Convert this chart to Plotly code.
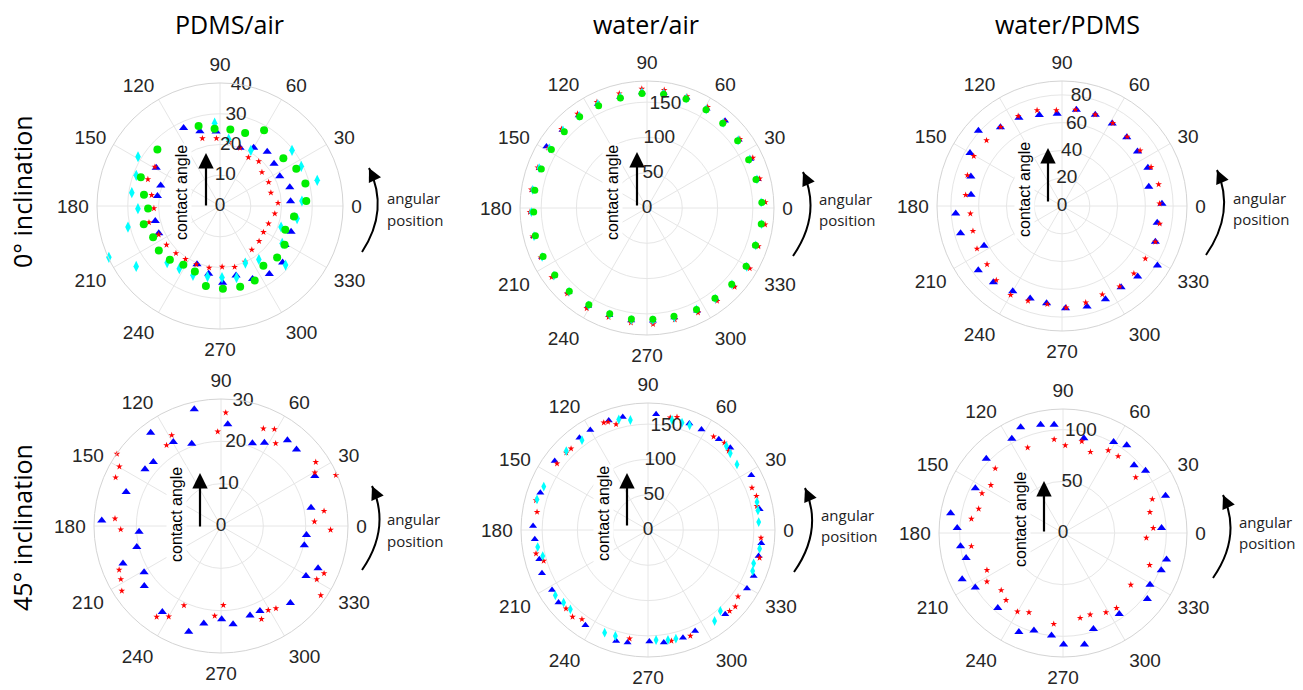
import plotly.graph_objects as go

W, H = 1303, 690

# ---------------- data (angular position in deg, contact angle in deg) ----------------
ANG_TICKS = [0, 30, 60, 90, 120, 150, 180, 210, 240, 270, 300, 330]
RADIAL_LABEL_ANGLE = 80

COL_TITLES = ["PDMS/air", "water/air", "water/PDMS"]
ROW_TITLES = ["0° inclination", "45° inclination"]

# Panel 1: PDMS/air, 0° inclination
P1_RED_T = [3, 14.6, 26, 38.8, 49, 59.7, 71, 82, 93, 104.6, 149, 159.7, 171, 182, 193, 205, 216, 227, 237, 248,
            260, 272, 283.5, 294, 306, 318, 329, 340, 352]
P1_RED_R = [18.9, 17.1, 17.6, 17.5, 19.2, 18.3, 20, 21, 22, 22.7, 24.7, 25, 22.5, 21.5, 23.7, 22, 21.5, 21, 20.6, 20.5,
            20.4, 19.8, 20.4, 19.9, 17.6, 17.1, 16.5, 16.8, 18]
P1_BLUE_T = [3.8, 15, 26.4, 38, 49, 60, 71, 93, 105, 115, 149, 161, 171, 193, 204, 248.5, 260.5, 272, 283, 294,
             306, 318, 329, 340, 352]
P1_BLUE_R = [23, 23.5, 21.7, 22.3, 23.4, 21.9, 20, 24.3, 25.2, 28, 24.2, 20.4, 20.6, 21.6, 21.8, 20.4, 22.3, 25, 23.2, 26,
             27.3, 27.4, 24.7, 24.6, 24.5]
P1_CYAN_T = [3.5, 14.8, 26, 37.7, 61, 82.6, 93.7, 149, 159.9, 171.4, 181.9, 192.9, 204.8, 215.8, 227, 237, 248.7, 260,
             271.6, 283, 294, 306, 318, 329, 341, 350.7]
P1_CYAN_R = [26.7, 32.7, 29.4, 29.6, 20.7, 21.9, 27, 31.1, 29, 29, 26.7, 30.7, 39.8, 33.6, 25.2, 24.3, 24.2, 23.3,
             23.3, 23.9, 20.3, 21.5, 28.7, 23.6, 21, 25.4]
P1_GREEN_T = [3.3, 14.7, 26, 37, 59.8, 71, 82.3, 94, 105, 138, 160, 171.5, 182, 193.5, 205, 216, 227, 238, 249, 260,
              272, 284, 295, 306, 318, 329, 340, 352]
P1_GREEN_R = [28.1, 28.7, 27.6, 25.8, 28.5, 25.1, 25.1, 25.2, 26.9, 27.4, 27.4, 25, 23.4, 25.5, 24, 24.6, 23.9, 22.5,
              22.8, 26.4, 26.9, 27.1, 26.7, 24, 25, 24.5, 22.6, 24.3]

# Panel 2: water/air, 0° inclination
P2_T = [2.8, 14.6, 25.4, 36.6, 48.2, 59, 70.3, 81.7, 92.5, 103.6, 115.3, 126.4, 137.3, 148.6, 159.7, 171, 182, 194,
        205, 216, 227, 239, 250.6, 262, 273, 284, 296, 307, 318, 329.5, 341, 352]
P2_GREEN_R = [163, 159.6, 159.5, 160, 161, 162.5, 164, 163, 162.6, 160.4, 160.4, 160.8, 159.5, 158.8, 159.7, 161,
              160.7, 163, 162.5, 161.5, 161.5, 160, 159, 159, 158, 158, 160, 160, 161.6, 163, 162.5, 163.5]
P2_RED_R = [168, 165, 166, 164, 165, 167, 168, 169, 169, 167, 166, 166, 165, 164, 165, 166, 166, 167, 166, 167, 166,
            166, 164, 164, 165, 163, 165, 165, 167, 169, 167, 169]
P2_BLUE_R = [164, 162, 162, 162, 166, 164, 166, 165, 164, 162, 163, 163, 163, 167, 162, 163, 163, 165, 164, 163, 163,
             162, 161, 161, 160, 160, 162, 162, 164, 165, 164, 165]
P2_CYAN_R = [162, 161, 161, 161, 162, 163, 165, 164, 164, 162, 163, 162, 162, 162, 163, 164, 164, 165, 164, 163, 162,
             161, 160, 160, 159, 160, 160, 161, 162, 164, 163, 164]

# Panel 3: water/PDMS, 0° inclination
P3_BLUE_T = [1.3, 12.5, 24, 35.8, 46.7, 58.7, 70, 81.5, 93, 104, 116, 128, 138, 150, 162, 173, 184, 195, 207, 217.5,
             228, 240, 251, 261, 272, 284, 295, 306, 317, 328, 339, 350]
P3_BLUE_R = [72, 64, 67.7, 67, 68, 69.6, 70, 70, 66.5, 67.5, 70.7, 72, 81, 76.5, 69, 66, 76.7, 75.6, 63, 76, 73.8,
             70.9, 70.4, 70.9, 73.7, 74.6, 74, 72.4, 74.5, 81, 72, 69.6]
P3_RED_T = [1.4, 12.6, 23.6, 35.4, 46.7, 58.5, 70, 82, 93.4, 104.6, 116, 127.8, 139, 150.5, 162, 173.5, 184.8, 195.7,
            206.7, 217.9, 228.5, 240, 250.3, 261.5, 272.4, 283.8, 294.5, 305.6, 316.8, 327.7, 339, 349.7]
P3_RED_R = [70.3, 71.3, 70, 69, 68.5, 70, 70, 70, 69, 71.2, 72, 72, 72, 73, 71.6, 69.8, 66.2, 66.6, 68.5, 68.4, 71.4,
            74, 72.6, 71.5, 73.2, 71.6, 70, 71.3, 71, 71, 72, 71.5]

# Panel 4: PDMS/air, 45° inclination
P4_BLUE_T = [11.5, 28, 45.4, 52.2, 62.5, 69.2, 86.2, 102.9, 109.6, 119.6, 127, 136.6, 143.3, 160.3, 177.3, 184, 194,
             201, 211, 218, 235.7, 253, 260, 270.4, 277, 288, 294.6, 312, 329.5, 336.5, 347, 354]
P4_BLUE_R = [21.7, 25.1, 25.4, 25.6, 22.2, 20.9, 24.1, 28.3, 20.6, 22.8, 27.6, 22, 22.4, 23.8, 28.2, 19.4, 20.5, 24.8,
             21.2, 23, 24.6, 26.1, 23.4, 22, 23.4, 22.2, 22.1, 24.5, 23.3, 25, 20.2, 20.3]
P4_RED_T = [2.7, 8.3, 23.9, 29.6, 34, 56.5, 61.1, 66.5, 87.6, 92, 118.5, 124, 145.3, 149.7, 155.3, 176, 182, 203.3,
            208, 213.2, 234.7, 240, 245, 266, 271.7, 293.5, 299.3, 303.7, 325.2, 330.9, 335.3, 358]
P4_RED_R = [22.1, 24.6, 29.7, 25.5, 27, 23.4, 26.1, 25.1, 26.8, 22.3, 24.4, 23, 29.9, 27.8, 27.4, 25.1, 23.7, 26.2,
            26.8, 28, 26.3, 24.7, 20.7, 21.3, 18.7, 24, 22.8, 23.4, 28.7, 25.9, 26.8, 25.9]

# Panel 5: water/air, 45° inclination
P5_BLUE_T = [10.5, 27.9, 45, 52, 62, 68.8, 86, 102.6, 109.7, 120, 126.6, 143.5, 160.9, 178, 184.7, 195, 202.2, 212,
             219, 236.7, 254, 259.7, 270.7, 278, 288, 295, 312.5, 329.4, 336.5, 346.8, 353.3]
P5_BLUE_R = [161, 165.7, 165, 163, 161.4, 162, 164.3, 164, 165, 163.5, 163, 164.5, 161.5, 163, 161, 159.5, 162.3,
             160.4, 163.2, 161.6, 163.7, 162, 158.2, 161, 160.4, 158, 162, 163, 163.3, 161, 161.7]
P5_RED_T = [12.4, 17.4, 22.1, 44.4, 48.8, 54.9, 75.6, 78.8, 106.8, 110.3, 112.4, 133.4, 136.6, 143.9, 165.2, 170.8,
            191.9, 196.5, 223.8, 229, 233.5, 260.4, 281.9, 291.8, 315.2, 318.7, 323.5, 346, 356]
P5_RED_R = [158, 161, 159, 160, 164.4, 161.7, 165.3, 162.3, 156.5, 163.2, 164.5, 158.7, 159.4, 159.6, 164.2, 159.3,
            162.2, 154.2, 161, 163, 157.4, 156.2, 160.7, 161.7, 163, 164.7, 158.7, 163, 160.5]
P5_CYAN_T = [4.1, 10.1, 14.4, 36.4, 43, 47, 68.3, 72.4, 77.7, 99.1, 104.8, 126.3, 136, 157.4, 164.6, 188.8, 193.9,
             215.2, 220.7, 225.6, 247.1, 252.9, 274.2, 280.3, 284.4, 306.2, 311.8, 338.6, 342.5, 350.5]
P5_CYAN_R = [157.3, 158.3, 159.5, 156.7, 159.4, 162.8, 159.6, 159.6, 159.6, 157.9, 162, 158, 161, 160, 163.2, 158.2,
             153.7, 160.7, 157.8, 157.3, 157.9, 157.2, 156.3, 158.4, 159, 159.8, 153.9, 159.3, 157, 160.4]

# Panel 6: water/PDMS, 45° inclination
P6_BLUE_T = [2.9, 20, 37, 43.6, 54, 60.9, 77.6, 94.7, 101.7, 111.8, 118.5, 135.9, 153, 170, 177.3, 187.4, 194.4, 204.7,
             211.9, 229, 246, 253.4, 263.6, 270.3, 280.9, 287.6, 304.8, 321.9, 329.2, 339.2, 345.7]
P6_BLUE_R = [95.5, 105.6, 100, 95, 104.9, 100.7, 94, 105, 106.9, 110.3, 103.8, 103.4, 95.2, 110.4, 102.5, 100, 96.8,
             107.4, 100, 96.2, 105, 98.5, 99.8, 107.8, 109.8, 97.4, 95.4, 103.7, 98, 101.7, 103.4]
P6_RED_T = [3.1, 13.5, 20.7, 37.4, 54.3, 61.3, 71.3, 78.4, 88.5, 95.4, 112.5, 136.4, 146.4, 153.9, 164, 171.2, 188.2,
            206, 212.6, 222.8, 229.7, 239.9, 246.8, 264.2, 281.4, 288.4, 298.4, 305.5, 322.6, 339.7, 356.6]
P6_RED_R = [87.5, 86.5, 92.4, 88.6, 91.5, 91.2, 82.8, 90.5, 84.8, 91, 89.4, 90.5, 83.8, 87.3, 84.9, 89.7, 89.6, 81.9,
            87.4, 81.5, 85.2, 88, 83.6, 88.5, 83.9, 83.3, 87.4, 89.2, 82.6, 89.4, 80.8]

# ---------------- styling ----------------
RED = dict(symbol="star", size=5, color="#ff0000", line=dict(width=0))
BLUE = dict(symbol="triangle-up", size=8, color="#0000ff", line=dict(width=0))
CYAN = dict(symbol="diamond-tall", size=8, color="#00ffff", line=dict(width=0))
GREEN = dict(symbol="circle", size=8, color="#00ee00", line=dict(width=0))

TICKFONT = dict(family="Liberation Sans, Arial, sans-serif", size=19, color="#262626")
GRID = "#e6e6e6"

# panel geometry: centre (px), radius (px), radial max, radial ticks, decorations
PANELS = [
    dict(cx=220, cy=206, R=123, rmax=40, rt=[0, 10, 20, 30, 40],
         arr=(206, 207, 153), lab=(182, 193), cb=(362, 252), ct=(369, 168), bulge=12, txt=(385, 198, 220)),
    dict(cx=647, cy=208, R=127, rmax=180, rt=[0, 50, 100, 150],
         arr=(637, 207, 152), lab=(613, 193), cb=(793, 256), ct=(803, 172), bulge=12, txt=(817, 199, 220)),
    dict(cx=1062, cy=206, R=125, rmax=90, rt=[0, 20, 40, 60, 80],
         arr=(1048, 203, 148), lab=(1024, 190), cb=(1206, 255), ct=(1217, 170), bulge=12, txt=(1231, 198, 219)),
    dict(cx=221, cy=526, R=127, rmax=30, rt=[0, 10, 20, 30],
         arr=(200, 528, 473), lab=(176, 515), cb=(362, 570), ct=(372, 486), bulge=12, txt=(385, 519, 541)),
    dict(cx=648, cy=530, R=127, rmax=180, rt=[0, 50, 100, 150],
         arr=(627, 527, 473), lab=(603, 514), cb=(794, 572), ct=(805, 488), bulge=12, txt=(819, 515, 536)),
    dict(cx=1063, cy=533, R=124, rmax=120, rt=[0, 50, 100],
         arr=(1044, 533, 481), lab=(1020, 520), cb=(1213, 578), ct=(1223, 495), bulge=12, txt=(1237, 522, 543)),
]

SERIES = [
    [(P1_BLUE_T, P1_BLUE_R, BLUE), (P1_RED_T, P1_RED_R, RED), (P1_CYAN_T, P1_CYAN_R, CYAN),
     (P1_GREEN_T, P1_GREEN_R, GREEN)],
    [(P2_T, P2_BLUE_R, dict(BLUE, size=7)), (P2_T, P2_RED_R, RED), (P2_T, P2_CYAN_R, dict(CYAN, size=7)),
     (P2_T, P2_GREEN_R, dict(GREEN, size=7))],
    [(P3_BLUE_T, P3_BLUE_R, BLUE), (P3_RED_T, P3_RED_R, RED)],
    [(P4_BLUE_T, P4_BLUE_R, BLUE), (P4_RED_T, P4_RED_R, RED)],
    [(P5_BLUE_T, P5_BLUE_R, dict(BLUE, size=7)), (P5_RED_T, P5_RED_R, RED), (P5_CYAN_T, P5_CYAN_R, dict(CYAN, size=7))],
    [(P6_BLUE_T, P6_BLUE_R, BLUE), (P6_RED_T, P6_RED_R, RED)],
]


def px(x):
    return x / W


def py(y):
    return 1 - y / H


fig = go.Figure()
layout = {}
annotations = []
shapes = []

for i, (p, series) in enumerate(zip(PANELS, SERIES)):
    name = "polar" if i == 0 else f"polar{i + 1}"
    for th, rr, mk in series:
        fig.add_trace(go.Scatterpolar(theta=th, r=rr, mode="markers", marker=mk, subplot=name,
                                      showlegend=False, hoverinfo="skip"))
    # radial tick labels centred on the 80° line (MATLAB style), placed by the polar axis scale
    fig.add_trace(go.Scatterpolar(r=p["rt"], theta=[RADIAL_LABEL_ANGLE] * len(p["rt"]), mode="text",
                                  text=[str(v) for v in p["rt"]], textposition="middle center",
                                  textfont=TICKFONT, cliponaxis=False, subplot=name,
                                  showlegend=False, hoverinfo="skip"))
    cx, cy, R = p["cx"], p["cy"], p["R"]
    layout[name] = dict(
        domain=dict(x=[px(cx - R), px(cx + R)], y=[py(cy + R), py(cy - R)]),
        bgcolor="white",
        angularaxis=dict(direction="counterclockwise", rotation=0, tickmode="array",
                         tickvals=ANG_TICKS, ticktext=[str(v) for v in ANG_TICKS],
                         showline=True, linecolor="#d4d4d4", linewidth=1, gridcolor=GRID,
                         ticks="outside", ticklen=4, tickcolor="rgba(0,0,0,0)", tickfont=TICKFONT),
        radialaxis=dict(range=[0, p["rmax"]], tickmode="array", tickvals=p["rt"],
                        showticklabels=False, angle=RADIAL_LABEL_ANGLE,
                        showline=False, ticks="", gridcolor=GRID),
    )
    # vertical "contact angle" arrow
    ax_, yb, yt = p["arr"]
    annotations.append(dict(x=px(ax_), y=py(yt), xref="paper", yref="paper", ax=0, ay=yb - yt,
                            showarrow=True, arrowhead=2, arrowsize=1.4, arrowwidth=2.2,
                            arrowcolor="black", text=""))
    lx, ly = p["lab"]
    annotations.append(dict(x=px(lx), y=py(ly), xref="paper", yref="paper", text="contact angle",
                            xanchor="center", yanchor="middle",
                            textangle=-90, showarrow=False, bgcolor="white",
                            font=dict(family="Liberation Sans, Arial, sans-serif", size=16, color="black")))
    # curved "angular position" arrow
    (bx, by), (tx, ty) = p["cb"], p["ct"]
    mx, my = (bx + tx) / 2, (by + ty) / 2
    qx, qy = mx + 2 * p["bulge"], my
    shapes.append(dict(type="path", xref="paper", yref="paper",
                       path=f"M {px(bx)},{py(by)} Q {px(qx)},{py(qy)} {px(tx)},{py(ty)}",
                       line=dict(color="black", width=2)))
    dx, dy = qx - tx, qy - ty
    n = (dx * dx + dy * dy) ** 0.5
    annotations.append(dict(x=px(tx), y=py(ty), xref="paper", yref="paper", ax=dx / n * 9, ay=dy / n * 9,
                            showarrow=True, arrowhead=2, arrowsize=1.5, arrowwidth=1.8,
                            arrowcolor="black", text=""))
    tx0, t1, t2 = p["txt"]
    for word, yy in (("angular", t1), ("position", t2)):
        annotations.append(dict(x=px(tx0), y=py(yy), xref="paper", yref="paper", text=word,
                                xanchor="left", yanchor="middle", showarrow=False,
                                font=dict(family="Open Sans, sans-serif", size=15, color="#222222")))

# column / row titles
for t, x in zip(COL_TITLES, [229, 646, 1067]):
    annotations.append(dict(x=px(x), y=py(24), xref="paper", yref="paper", text=t, showarrow=False,
                            xanchor="center", yanchor="middle",
                            font=dict(family="Open Sans, sans-serif", size=25, color="black")))
for t, y in zip(ROW_TITLES, [192, 528]):
    annotations.append(dict(x=px(22), y=py(y), xref="paper", yref="paper", text=t, showarrow=False,
                            xanchor="center", yanchor="middle",
                            textangle=-90, font=dict(family="Open Sans, sans-serif", size=25, color="black")))

fig.update_layout(width=W, height=H, margin=dict(l=0, r=0, t=0, b=0), paper_bgcolor="white",
                  showlegend=False, annotations=annotations, shapes=shapes, **layout)

fig.write_html("out.html")
